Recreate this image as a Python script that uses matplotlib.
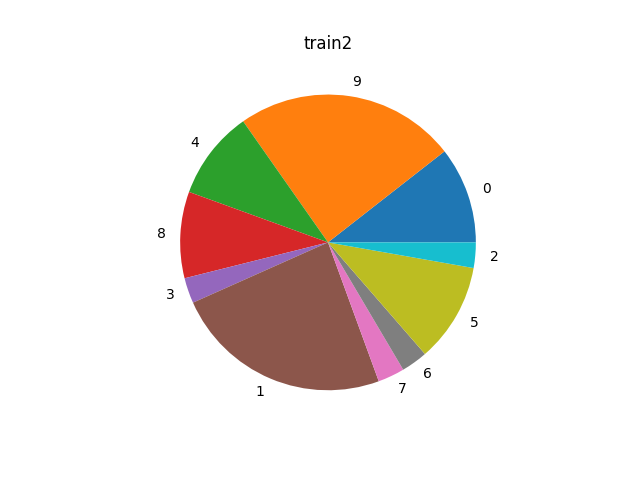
import matplotlib
matplotlib.use("Agg")
import matplotlib.pyplot as plt

labels = ['0', '9', '4', '8', '3', '1', '7', '6', '5', '2']
counts = [38, 87, 35, 34, 10, 86, 10.5, 10.4, 39, 10]

fig, ax = plt.subplots(figsize=(6.4, 4.8), dpi=100)
ax.pie(counts, labels=labels)
ax.set_title('train2')
fig.savefig('out.png')
